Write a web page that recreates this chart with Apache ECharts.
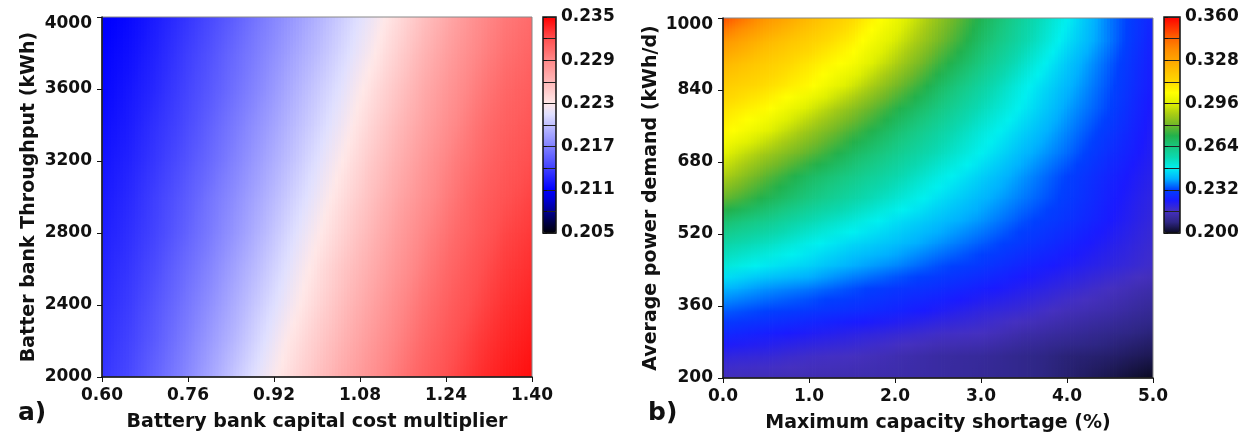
<!DOCTYPE html>
<html>
  <head>
    <meta charset="utf-8" />
    <title>Cost maps</title>
    <script src="https://cdn.jsdelivr.net/npm/echarts@6/dist/echarts.min.js"></script>
    <style>
      * {
        margin: 0;
        padding: 0;
        box-sizing: border-box;
      }
      body {
        background: #fff;
      }
    </style>
  </head>
  <body>
    <div id="main" style="width: 1255px; height: 440px"></div>
    <script type="text/javascript">
      // ---- a) battery cost multiplier vs throughput ----
      const costMultiplier = [0.6, 0.65, 0.7, 0.75, 0.8, 0.85, 0.9, 0.95, 1.0, 1.05, 1.1, 1.15, 1.2, 1.25, 1.3, 1.35, 1.4];
      const throughput = [2000, 2200, 2400, 2600, 2800, 3000, 3200, 3400, 3600, 3800, 4000];
      // one row per throughput value, one column per cost multiplier
      const costA = [
        [0.2135, 0.2144, 0.2157, 0.2171, 0.2187, 0.2204, 0.2221, 0.2238, 0.2254, 0.227, 0.2284, 0.2298, 0.2311, 0.2322, 0.2332, 0.234, 0.2345],
        [0.2132, 0.2141, 0.2153, 0.2167, 0.2182, 0.2197, 0.2214, 0.2232, 0.2248, 0.2264, 0.2279, 0.2293, 0.2306, 0.2318, 0.2328, 0.2336, 0.2341],
        [0.213, 0.2138, 0.215, 0.2163, 0.2177, 0.2192, 0.2208, 0.2224, 0.2241, 0.2258, 0.2273, 0.2288, 0.2301, 0.2313, 0.2323, 0.2332, 0.2337],
        [0.2127, 0.2135, 0.2146, 0.2159, 0.2172, 0.2187, 0.2202, 0.2218, 0.2235, 0.2252, 0.2267, 0.2282, 0.2296, 0.2308, 0.2319, 0.2328, 0.2333],
        [0.2124, 0.2132, 0.2142, 0.2154, 0.2167, 0.2181, 0.2196, 0.2212, 0.2228, 0.2245, 0.2261, 0.2277, 0.2291, 0.2303, 0.2314, 0.2324, 0.2329],
        [0.2122, 0.2129, 0.214, 0.2151, 0.2164, 0.2177, 0.2191, 0.2206, 0.2221, 0.2238, 0.2255, 0.2271, 0.2285, 0.2298, 0.231, 0.2319, 0.2325],
        [0.2119, 0.2126, 0.2136, 0.2147, 0.2159, 0.2172, 0.2186, 0.22, 0.2215, 0.2231, 0.2249, 0.2265, 0.228, 0.2294, 0.2305, 0.2315, 0.2321],
        [0.2116, 0.2123, 0.2133, 0.2143, 0.2155, 0.2168, 0.2181, 0.2195, 0.2209, 0.2224, 0.2242, 0.2259, 0.2274, 0.2288, 0.2301, 0.2311, 0.2317],
        [0.2113, 0.212, 0.2129, 0.214, 0.2151, 0.2163, 0.2176, 0.219, 0.2204, 0.2218, 0.2235, 0.2252, 0.2269, 0.2283, 0.2296, 0.2307, 0.2313],
        [0.2111, 0.2117, 0.2126, 0.2137, 0.2148, 0.216, 0.2172, 0.2185, 0.2198, 0.2212, 0.2227, 0.2245, 0.2263, 0.2278, 0.2291, 0.2302, 0.2309],
        [0.2108, 0.2114, 0.2123, 0.2133, 0.2144, 0.2155, 0.2168, 0.218, 0.2193, 0.2207, 0.2221, 0.2238, 0.2256, 0.2272, 0.2287, 0.2298, 0.2305],
      ];
      const costTicksA = [0.6, 0.76, 0.92, 1.08, 1.24, 1.4];
      const throughputTicks = [2000, 2400, 2800, 3200, 3600, 4000];
      const barLabelsA = ["0.205", "0.211", "0.217", "0.223", "0.229", "0.235"];

      // ---- b) capacity shortage vs average demand ----
      const shortage = [0, 0.5, 1, 1.5, 2, 2.5, 3, 3.5, 4, 4.5, 5];
      const demand = [200, 250, 300, 350, 400, 450, 500, 550, 600, 650, 700, 750, 800, 850, 900, 950, 1000];
      const costB = [
        [0.215, 0.2145, 0.214, 0.2135, 0.213, 0.212, 0.2105, 0.209, 0.2065, 0.2035, 0.2],
        [0.22, 0.219, 0.217, 0.216, 0.214, 0.212, 0.211, 0.209, 0.207, 0.206, 0.204],
        [0.227, 0.225, 0.223, 0.221, 0.219, 0.217, 0.216, 0.213, 0.211, 0.209, 0.207],
        [0.234, 0.232, 0.23, 0.228, 0.226, 0.223, 0.22, 0.218, 0.215, 0.213, 0.21],
        [0.241, 0.238, 0.236, 0.233, 0.23, 0.228, 0.225, 0.222, 0.219, 0.216, 0.213],
        [0.251, 0.247, 0.244, 0.24, 0.237, 0.233, 0.23, 0.226, 0.223, 0.22, 0.217],
        [0.258, 0.254, 0.249, 0.245, 0.242, 0.238, 0.234, 0.23, 0.226, 0.222, 0.218],
        [0.267, 0.262, 0.256, 0.251, 0.246, 0.242, 0.238, 0.233, 0.229, 0.224, 0.219],
        [0.279, 0.271, 0.264, 0.258, 0.252, 0.246, 0.241, 0.236, 0.231, 0.225, 0.22],
        [0.289, 0.278, 0.269, 0.263, 0.257, 0.25, 0.244, 0.238, 0.232, 0.226, 0.221],
        [0.297, 0.287, 0.278, 0.269, 0.262, 0.255, 0.248, 0.241, 0.235, 0.228, 0.222],
        [0.306, 0.297, 0.286, 0.276, 0.267, 0.259, 0.251, 0.244, 0.237, 0.23, 0.2225],
        [0.31, 0.305, 0.295, 0.284, 0.273, 0.264, 0.255, 0.247, 0.239, 0.232, 0.223],
        [0.316, 0.311, 0.305, 0.294, 0.281, 0.269, 0.259, 0.249, 0.241, 0.233, 0.224],
        [0.323, 0.316, 0.309, 0.302, 0.289, 0.275, 0.264, 0.253, 0.243, 0.234, 0.2245],
        [0.333, 0.323, 0.315, 0.307, 0.295, 0.281, 0.268, 0.257, 0.246, 0.236, 0.225],
        [0.348, 0.333, 0.322, 0.312, 0.3, 0.285, 0.271, 0.259, 0.248, 0.236, 0.226],
      ];
      const shortageTicks = [0, 1, 2, 3, 4, 5];
      const demandTicks = [200, 360, 520, 680, 840, 1000];
      const barLabelsB = ["0.200", "0.232", "0.264", "0.296", "0.328", "0.360"];

      const coloursA = [
        "#000008", "#000048", "#000090", "#0000d0", "#0000ff", "#2020ff", "#4040ff",
        "#6060ff", "#8080ff", "#a0a0ff", "#c0c0ff", "#e0e0ff", "#ffe8e8", "#ffd0d0",
        "#ffb8b8", "#ffa0a0", "#ff8888", "#ff6a6a", "#ff5050", "#ff2828", "#ff0000",
      ];
      const coloursB = [
        "#0a0a20", "#2e2684", "#4530c0", "#1a1aff", "#0040ff", "#00b0ff", "#00f0f0",
        "#0ad8b0", "#18c880", "#22b14c", "#70b828", "#a8cc14", "#e0f000", "#ffff00",
        "#ffd800", "#ffc000", "#ffa500", "#ff8c00", "#ff6600", "#ff3300", "#ff0000",
      ];

      // cells between grid nodes: [x0, y0, x1, y1, v(x0,y0), v(x1,y0), v(x0,y1), v(x1,y1)]
      function cells(xs, ys, grid) {
        const out = [];
        for (let j = 0; j < ys.length - 1; j++) {
          for (let i = 0; i < xs.length - 1; i++) {
            out.push([xs[i], ys[j], xs[i + 1], ys[j + 1], grid[j][i], grid[j][i + 1], grid[j + 1][i], grid[j + 1][i + 1]]);
          }
        }
        return out;
      }

      // shade each cell smoothly between its four corner values
      function shader(colours, lo, hi) {
        const paint = (v) => echarts.color.lerp(Math.min(1, Math.max(0, (v - lo) / (hi - lo))), colours);
        return function (params, api) {
          const tl = api.coord([api.value(0), api.value(3)]);
          const br = api.coord([api.value(2), api.value(1)]);
          const v00 = api.value(4), v10 = api.value(5), v01 = api.value(6), v11 = api.value(7);
          const w = br[0] - tl[0];
          const h = br[1] - tl[1];
          const n = Math.max(1, Math.round(w / 3));
          const children = [];
          for (let k = 0; k < n; k++) {
            const f = (k + 0.5) / n;
            const bottom = v00 + (v10 - v00) * f;
            const top = v01 + (v11 - v01) * f;
            children.push({
              type: "rect",
              shape: { x: tl[0] + (k * w) / n, y: tl[1], width: w / n + 0.8, height: h + 0.8 },
              style: {
                fill: new echarts.graphic.LinearGradient(0, 0, 0, 1, [
                  { offset: 0, color: paint(top) },
                  { offset: 0.5, color: paint((top + bottom) / 2) },
                  { offset: 1, color: paint(bottom) },
                ]),
              },
            });
          }
          return { type: "group", children: children };
        };
      }

      const font = "DejaVu Sans";
      const txt = { color: "#111", fontFamily: font, fontWeight: "bold", fontSize: 17 };
      const nameTxt = { color: "#111", fontFamily: font, fontWeight: "bold", fontSize: 19 };
      const blackLine = { show: true, onZero: false, lineStyle: { color: "#111", width: 1.5 } };

      function plotAxis(extra) {
        return Object.assign(
          {
            type: "value",
            axisLine: blackLine,
            splitLine: { show: false },
            nameLocation: "middle",
            nameTextStyle: nameTxt,
            z: 6,
          },
          extra
        );
      }

      // top tick label sits a little lower than its tick
      const topRich = { hi: { padding: [14, 0, 0, 0] } };

      var myChart = echarts.init(document.getElementById("main"));

      var option = {
        animation: false,
        backgroundColor: "#fff",
        title: [
          { text: "a)", left: 13, top: 396, textStyle: { color: "#111", fontFamily: font, fontWeight: "bold", fontSize: 25 } },
          { text: "b)", left: 643, top: 396, textStyle: { color: "#111", fontFamily: font, fontWeight: "bold", fontSize: 25 } },
        ],
        grid: [
          { left: 102, top: 17, width: 430, height: 360, show: true, borderColor: "#888", borderWidth: 1, z: 5 },
          { left: 723, top: 18, width: 430, height: 360, show: true, borderColor: "#888", borderWidth: 1, z: 5 },
          { left: 543, top: 17, width: 13, height: 216, show: true, borderColor: "#111", borderWidth: 1.5, z: 5 },
          { left: 1164, top: 17, width: 16, height: 216, show: true, borderColor: "#111", borderWidth: 1.5, z: 5 },
        ],
        xAxis: [
          plotAxis({
            gridIndex: 0,
            min: 0.6,
            max: 1.4,
            name: "Battery bank capital cost multiplier",
            nameGap: 36,
            axisTick: { show: true, length: 5, customValues: costTicksA, lineStyle: { color: "#111" } },
            axisLabel: Object.assign({ margin: 10, customValues: costTicksA, formatter: (v) => v.toFixed(2) }, txt),
          }),
          plotAxis({
            gridIndex: 1,
            min: 0,
            max: 5,
            name: "Maximum capacity shortage (%)",
            nameGap: 36,
            axisTick: { show: true, length: 5, customValues: shortageTicks, lineStyle: { color: "#111" } },
            axisLabel: Object.assign({ margin: 10, customValues: shortageTicks, formatter: (v) => v.toFixed(1) }, txt),
          }),
          { type: "value", gridIndex: 2, min: 0, max: 1, show: false },
          { type: "value", gridIndex: 3, min: 0, max: 1, show: false },
        ],
        yAxis: [
          plotAxis({
            gridIndex: 0,
            min: 2000,
            max: 4000,
            name: "Batter bank Throughput (kWh)",
            nameGap: 63,
            axisTick: { show: true, length: 5, customValues: throughputTicks, lineStyle: { color: "#111" } },
            axisLabel: Object.assign(
              {
                margin: 10,
                customValues: throughputTicks,
                formatter: (v) => (v === 4000 ? "{hi|" + v + "}" : String(v)),
                rich: topRich,
              },
              txt
            ),
          }),
          plotAxis({
            gridIndex: 1,
            min: 200,
            max: 1000,
            name: "Average power demand (kWh/d)",
            nameGap: 62,
            axisTick: { show: true, length: 5, customValues: demandTicks, lineStyle: { color: "#111" } },
            axisLabel: Object.assign(
              {
                margin: 10,
                customValues: demandTicks,
                formatter: (v) => (v === 1000 ? "{hi|" + v + "}" : String(v)),
                rich: topRich,
              },
              txt
            ),
          }),
          // colour bar scales, one tick per band
          {
            type: "value",
            gridIndex: 2,
            position: "right",
            min: 0,
            max: 10,
            interval: 1,
            axisLine: { show: false },
            axisTick: { show: true, length: 4, lineStyle: { color: "#111" } },
            splitLine: { show: true, lineStyle: { color: "#222", width: 1 } },
            axisLabel: Object.assign({ margin: 5, formatter: (v) => (v % 2 === 0 ? barLabelsA[v / 2] : "") }, txt),
            z: 6,
          },
          {
            type: "value",
            gridIndex: 3,
            position: "right",
            min: 0,
            max: 10,
            interval: 1,
            axisLine: { show: false },
            axisTick: { show: true, length: 4, lineStyle: { color: "#111" } },
            splitLine: { show: true, lineStyle: { color: "#222", width: 1 } },
            axisLabel: Object.assign({ margin: 5, formatter: (v) => (v % 2 === 0 ? barLabelsB[v / 2] : "") }, txt),
            z: 6,
          },
        ],
        visualMap: [
          {
            type: "continuous",
            seriesIndex: 0,
            dimension: 4,
            min: 0.205,
            max: 0.235,
            calculable: false,
            hoverLink: false,
            left: 543,
            top: 17,
            padding: 0,
            itemWidth: 13,
            itemHeight: 216,
            inRange: { color: coloursA },
            z: 1,
          },
          {
            type: "continuous",
            seriesIndex: 1,
            dimension: 4,
            min: 0.2,
            max: 0.36,
            calculable: false,
            hoverLink: false,
            left: 1164,
            top: 17,
            padding: 0,
            itemWidth: 16,
            itemHeight: 216,
            inRange: { color: coloursB },
            z: 1,
          },
        ],
        series: [
          {
            type: "custom",
            xAxisIndex: 0,
            yAxisIndex: 0,
            clip: true,
            silent: true,
            encode: { x: [0, 2], y: [1, 3] },
            renderItem: shader(coloursA, 0.205, 0.235),
            data: cells(costMultiplier, throughput, costA),
            z: 2,
          },
          {
            type: "custom",
            xAxisIndex: 1,
            yAxisIndex: 1,
            clip: true,
            silent: true,
            encode: { x: [0, 2], y: [1, 3] },
            renderItem: shader(coloursB, 0.2, 0.36),
            data: cells(shortage, demand, costB),
            z: 2,
          },
        ],
      };

      myChart.setOption(option);
    </script>
  </body>
</html>
